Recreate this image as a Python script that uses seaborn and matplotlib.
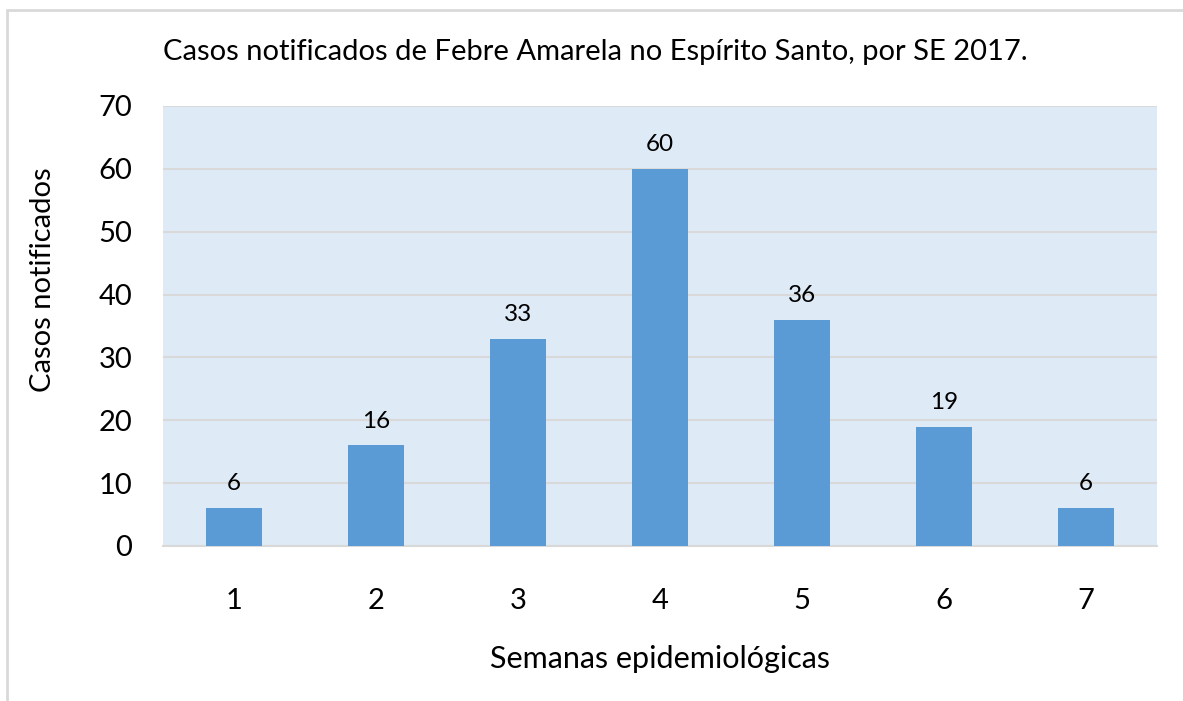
import matplotlib
import matplotlib.pyplot as plt
import pandas as pd
import seaborn as sns
from matplotlib.lines import Line2D

semanas = ["1", "2", "3", "4", "5", "6", "7"]
casos = [6, 16, 33, 60, 36, 19, 6]
y_ticks = [0, 10, 20, 30, 40, 50, 60, 70]

titulo = "Casos notificados de Febre Amarela no Espírito Santo, por SE 2017."
rotulo_x = "Semanas epidemiológicas"
rotulo_y = "Casos notificados"

sns.set_theme(style="white")
plt.rcParams["font.family"] = ["Lato", "DejaVu Sans"]
plt.rcParams["text.color"] = "black"
plt.rcParams["axes.labelcolor"] = "black"

df = pd.DataFrame({"Semana": semanas, "Casos": casos})

fig = plt.figure(figsize=(11.83, 7.01), dpi=100)
ax = fig.add_axes([163 / 1183, 155 / 701, 994 / 1183, 440 / 701])
ax.set_facecolor("#DEEAF6")

sns.barplot(data=df, x="Semana", y="Casos", color="#5B9BD5", width=0.4,
            saturation=1, edgecolor="none", linewidth=0, ax=ax, zorder=3)

ax.set_ylim(0, 70)
ax.set_yticks(y_ticks)
ax.yaxis.grid(True, color="#D9D9D9", linewidth=1.5, zorder=0)
ax.set_axisbelow(True)
for side in ["top", "right", "left"]:
    ax.spines[side].set_visible(False)
ax.spines["bottom"].set_color("#D9D9D9")
ax.spines["bottom"].set_linewidth(1.5)

ax.tick_params(axis="both", labelsize=21, length=0, colors="black")
ax.tick_params(axis="y", pad=22)
ax.tick_params(axis="x", pad=30)

for cont in ax.containers:
    ax.bar_label(cont, padding=10, fontsize=17.5, color="black")

ax.set_xlabel(rotulo_x, fontsize=22)
ax.set_ylabel(rotulo_y, fontsize=21)
ax.xaxis.set_label_coords(0.5, -0.225)
ax.yaxis.set_label_coords(-0.108, 0.605)

fig.text(163 / 1183, 1 - 52 / 701, titulo, fontsize=21, ha="left", va="center")

# moldura cinza (topo e esquerda)
fig.add_artist(Line2D([7 / 1183, 1], [1 - 10 / 701, 1 - 10 / 701],
                      color="#D9D9D9", linewidth=2, transform=fig.transFigure))
fig.add_artist(Line2D([7 / 1183, 7 / 1183], [0, 1 - 10 / 701],
                      color="#D9D9D9", linewidth=2, transform=fig.transFigure))

fig.savefig("out.png", dpi=100)
